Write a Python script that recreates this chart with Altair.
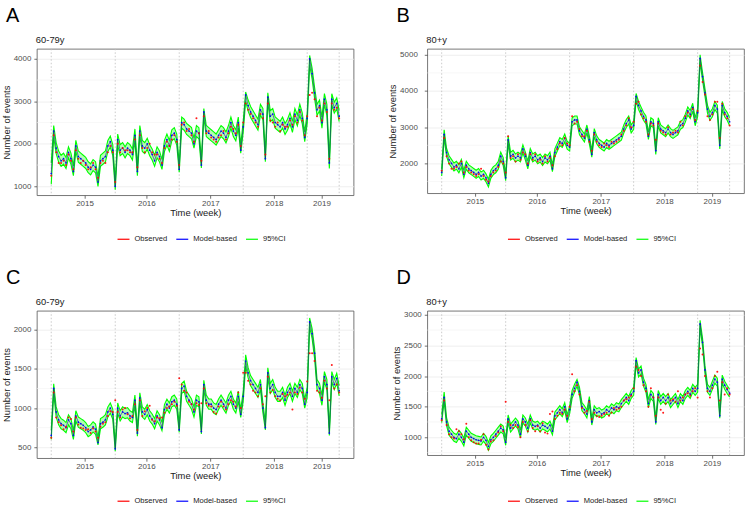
import altair as alt
import pandas as pd

FONT = "Liberation Sans"
WEEKS = list(range(0, 235, 2))
XTICKS = [27, 77.3, 129.3, 181, 219.6]
YEARS = ["2015", "2016", "2017", "2018", "2019"]
SEASON_LINES = [0, 52, 104, 156, 208, 234]
SERIES = ["Observed", "Model-based", "95%CI"]
COLORS = ["#ff0000", "#0000ff", "#00ff00"]

# ---------------- Panel A : 60-79y ----------------
A_model = [1300,2300,1900,1700,1600,1650,1550,1800,1650,1350,
           1950,1700,1650,1600,1550,1450,1400,1500,1450,1100,
           1600,1650,1700,1950,2050,1850,1000,2100,1850,1900,
           1800,1900,1850,1750,2200,1350,2300,1950,1900,2000,
           1850,1750,1600,1800,1700,1500,1950,2100,1950,2200,
           2250,2100,1400,2500,2450,2350,2300,2250,2000,2300,
           2250,1500,2750,2300,2250,2200,2150,2100,2200,2300,
           2250,2150,2300,2500,2300,2200,2500,1850,2400,3150,
           2900,2750,2650,2550,2450,2800,2700,1650,3100,2650,
           2700,2500,2450,2400,2500,2350,2450,2600,2400,2700,
           2550,2800,2600,2150,2600,4000,3650,3200,2800,2900,
           2500,3050,2800,1550,3050,2850,2950,2650]
A_lo = [1050,2150,1770,1570,1470,1520,1420,1670,1520,1250,
        1820,1570,1520,1470,1420,1320,1270,1370,1320,1000,
        1470,1520,1570,1820,1920,1720,920,1970,1720,1770,
        1670,1770,1720,1620,2070,1250,2170,1820,1770,1870,
        1720,1620,1470,1670,1570,1400,1820,1970,1820,2070,
        2120,1970,1330,2370,2320,2220,2170,2120,1900,2170,
        2120,1430,2620,2170,2120,2070,2020,1970,2070,2170,
        2120,2020,2170,2370,2170,2070,2370,1780,2270,3000,
        2770,2620,2520,2420,2320,2670,2570,1580,2970,2520,
        2570,2370,2320,2270,2370,2220,2320,2470,2270,2570,
        2420,2670,2470,2050,2470,3850,3520,3070,2670,2770,
        2370,2920,2670,1420,2920,2720,2820,2520]
A_hi = [1550,2430,2030,1830,1730,1780,1680,1930,1780,1480,
        2080,1830,1780,1730,1680,1580,1530,1630,1580,1230,
        1730,1780,1830,2080,2180,1980,1130,2230,1980,2030,
        1930,2030,1980,1880,2350,1480,2430,2080,2030,2130,
        1980,1880,1730,1930,1830,1630,2080,2230,2080,2330,
        2380,2230,1530,2630,2580,2480,2430,2380,2130,2430,
        2380,1630,2830,2430,2380,2330,2280,2230,2330,2430,
        2380,2280,2430,2630,2430,2330,2630,1980,2530,3220,
        3030,2880,2780,2680,2580,2930,2830,1780,3200,2780,
        2830,2630,2580,2530,2630,2480,2580,2730,2530,2830,
        2680,2930,2730,2280,2730,4080,3780,3330,2930,3030,
        2630,3180,2930,1680,3180,2980,3080,2780]
A_obs = [1250,2200,1800,1550,1550,1600,1500,1750,1600,1400,
         1850,1650,1550,1600,1500,1400,1450,1550,1400,1200,
         1550,1600,1550,1800,1950,1800,1100,2000,1800,1900,
         1850,1850,1800,1800,2100,1450,2200,1900,1800,1900,
         2000,1800,1750,1750,1650,1550,1900,2050,1950,2100,
         2200,2050,1500,2450,2500,2300,2350,2200,2050,2600,
         2250,1600,2650,2250,2300,2150,2100,2050,2150,2200,
         2300,2100,2250,2400,2350,2250,2450,1950,2500,2950,
         2800,2700,2600,2500,2400,2700,2600,1750,2950,2550,
         2500,2400,2500,2300,2450,2400,2400,2550,2450,2650,
         2500,2750,2550,2200,2650,3150,3200,3050,2650,2850,
         2550,2950,2750,1650,2950,2800,2850,2600]

# ---------------- Panel B : 80+y ----------------
B_model = [1750,2800,2300,2100,2000,1900,1950,1850,2000,1700,
           1950,1850,1800,1750,1700,1750,1650,1700,1600,1450,
           1700,1800,1850,1950,2200,2050,1600,2650,2200,2250,
           2150,2200,2150,2400,2200,1950,2300,2150,2200,2100,
           2150,2050,2150,2100,2200,1850,2300,2450,2600,2550,
           2700,2500,2450,3150,3200,3200,2900,2800,2700,2950,
           2650,2250,2850,2650,2550,2500,2450,2550,2500,2550,
           2600,2650,2700,2750,2950,3100,3200,2950,3050,3850,
           3600,3450,3300,3200,2750,3150,3100,2350,3150,2950,
           2900,2850,2950,2850,2800,2850,2900,3050,3100,3250,
           3450,3350,3550,3150,3400,4900,4400,3950,3500,3300,
           3400,3600,3500,2500,3600,3400,3300,3150]
B_lo = [1650,2690,2190,1990,1890,1790,1840,1740,1890,1600,
        1840,1740,1690,1640,1590,1640,1540,1590,1490,1350,
        1590,1690,1740,1840,2090,1940,1520,2540,2090,2140,
        2040,2090,2040,2290,2090,1850,2190,2040,2090,1990,
        2040,1940,2040,1990,2090,1770,2190,2340,2490,2440,
        2590,2390,2340,3040,3090,3090,2790,2690,2590,2840,
        2540,2170,2740,2540,2440,2390,2340,2440,2390,2440,
        2490,2540,2590,2640,2840,2990,3090,2840,2940,3740,
        3490,3340,3190,3090,2660,3040,2990,2250,3040,2840,
        2790,2740,2840,2740,2690,2740,2790,2940,2990,3140,
        3340,3240,3440,3040,3290,4790,4290,3840,3390,3190,
        3290,3490,3390,2400,3490,3290,3190,3040]
B_hi = [1850,2930,2410,2210,2110,2010,2060,1960,2110,1810,
        2060,1960,1910,1860,1810,1860,1760,1810,1710,1560,
        1810,1910,1960,2060,2310,2160,1710,2760,2310,2360,
        2260,2310,2260,2510,2310,2060,2410,2260,2310,2210,
        2260,2160,2260,2210,2310,1960,2410,2560,2710,2660,
        2810,2610,2560,3260,3310,3310,3010,2910,2810,3060,
        2760,2360,2960,2760,2660,2610,2560,2660,2610,2660,
        2710,2760,2810,2860,3060,3210,3310,3060,3160,3930,
        3710,3560,3410,3310,2860,3260,3210,2460,3260,3060,
        3010,2960,3060,2960,2910,2960,3010,3160,3210,3360,
        3560,3460,3660,3260,3510,5000,4510,4060,3610,3410,
        3510,3710,3610,2610,3710,3510,3410,3260]
B_obs = [1800,2700,2200,2000,1850,1850,1900,2000,2050,1750,
         1900,1800,1750,1700,1650,1700,1850,1650,1550,1500,
         1650,1750,1800,1900,2050,2000,1750,2750,2150,2200,
         2050,2250,2100,2300,2250,2000,2250,2100,2250,2050,
         2100,2000,2200,2050,2150,1950,2200,2400,2550,2500,
         2700,2550,2500,3300,3100,3150,2950,2750,2750,2900,
         2600,2350,2800,2600,2500,2450,2550,2500,2450,2600,
         2550,2600,2650,2800,2900,3050,3250,3000,3150,3650,
         3700,3350,3250,3150,2800,3100,3050,2650,3100,2900,
         2850,2800,3000,2800,2850,2900,2850,3150,3050,3300,
         3400,3300,3500,3200,3450,4700,4250,3900,3300,3200,
         3350,3700,3700,2700,3650,3350,3250,3050]

# ---------------- Panel C : 60-79y ----------------
C_model = [650,1250,950,850,800,780,750,850,800,650,
           900,820,800,780,750,700,720,760,730,560,
           800,820,850,950,1000,920,480,1000,900,950,
           930,940,900,880,1100,680,1130,950,920,980,
           900,860,800,900,850,750,980,1050,1000,1080,
           1100,1050,720,1250,1280,1150,1100,1050,950,1100,
           1080,700,1300,1100,1050,1050,1000,980,1050,1100,
           1050,1000,1100,1150,1050,1000,1150,920,1150,1600,
           1450,1350,1300,1250,1200,1300,1000,750,1450,1250,
           1300,1200,1150,1150,1200,1100,1200,1250,1150,1250,
           1200,1300,1250,1050,1200,2100,1950,1700,1300,1250,
           1100,1400,1300,680,1400,1300,1380,1220]
C_lo = [600,1185,885,785,735,715,685,785,735,600,
        835,755,735,715,685,635,655,695,665,530,
        735,755,785,885,935,855,450,935,835,885,
        865,875,835,815,1035,640,1065,885,855,915,
        835,795,735,835,785,710,915,985,935,1015,
        1035,985,690,1185,1215,1085,1035,985,885,1035,
        1015,670,1235,1035,985,985,935,915,985,1035,
        985,935,1035,1085,985,935,1085,880,1085,1535,
        1385,1285,1235,1185,1135,1235,940,720,1385,1185,
        1235,1135,1085,1085,1135,1035,1135,1185,1085,1185,
        1135,1235,1185,1000,1135,2035,1885,1635,1235,1185,
        1035,1335,1235,650,1335,1235,1315,1155]
C_hi = [715,1310,1015,915,865,845,815,915,865,715,
        965,885,865,845,815,765,785,825,795,625,
        865,885,915,1015,1065,985,545,1065,965,1015,
        995,1005,965,945,1165,745,1195,1015,985,1045,
        965,925,865,965,915,815,1045,1115,1065,1145,
        1165,1115,785,1315,1345,1215,1165,1115,1015,1165,
        1145,765,1355,1165,1115,1115,1065,1045,1115,1165,
        1115,1065,1165,1215,1115,1065,1215,985,1215,1680,
        1515,1415,1365,1315,1265,1365,1065,815,1515,1315,
        1365,1265,1215,1215,1265,1165,1265,1315,1215,1315,
        1265,1365,1315,1115,1265,2150,2015,1765,1365,1315,
        1165,1465,1365,745,1465,1365,1445,1285]
C_obs = [620,1200,880,820,780,730,760,880,860,700,
         880,790,750,740,720,730,680,740,700,620,
         760,800,820,900,960,950,1100,950,880,980,
         1000,920,870,900,1050,720,1100,900,960,1000,
         1030,850,830,880,870,880,940,1000,1020,1050,
         1080,1030,1380,1300,1220,1200,1080,1050,980,1060,
         1040,1060,1250,1060,1030,1020,950,930,1020,1080,
         1020,980,1050,1100,1080,1020,1200,1000,1450,1450,
         1350,1300,1220,1200,1150,1250,1050,1150,1400,1200,
         1230,1150,1120,1100,1180,1150,1170,1200,980,1200,
         1180,1260,1200,1120,1340,1700,1700,1600,1220,1200,
         1130,1350,1250,1100,1550,1250,1300,1200]

# ---------------- Panel D : 80+y ----------------
D_model = [1300,1650,1250,1100,1050,1000,980,1050,1000,920,
           1100,1050,1000,980,960,950,940,1000,950,850,
           960,1000,1050,1100,1150,1120,920,1300,1150,1200,
           1250,1200,1050,1300,1250,1150,1300,1200,1180,1200,
           1150,1200,1180,1150,1200,1100,1350,1400,1450,1400,
           1500,1300,1450,1700,1800,1900,1750,1500,1450,1380,
           1600,1250,1450,1400,1420,1380,1400,1450,1420,1480,
           1450,1500,1480,1550,1600,1650,1600,1700,1750,2250,
           2050,2100,1900,1800,1550,1700,1650,1250,1700,1600,
           1650,1600,1650,1550,1600,1650,1550,1650,1600,1700,
           1750,1700,1800,1750,1800,2850,2550,2100,1800,1750,
           1850,1950,1900,1350,1950,1850,1780,1720]
D_lo = [1240,1585,1185,1035,985,935,915,985,935,860,
        1035,985,935,915,895,885,875,935,885,790,
        895,935,985,1035,1085,1055,870,1235,1085,1135,
        1185,1135,990,1235,1185,1085,1235,1135,1115,1135,
        1085,1135,1115,1085,1135,1040,1285,1335,1385,1335,
        1435,1240,1385,1635,1735,1835,1685,1435,1385,1315,
        1535,1200,1385,1335,1355,1315,1335,1385,1355,1415,
        1385,1435,1415,1485,1535,1585,1535,1635,1685,2185,
        1985,2035,1835,1735,1485,1635,1585,1210,1635,1535,
        1585,1535,1585,1485,1535,1585,1485,1585,1535,1635,
        1685,1635,1735,1685,1735,2785,2485,2035,1735,1685,
        1785,1885,1835,1310,1885,1785,1715,1655]
D_hi = [1370,1740,1315,1165,1115,1065,1045,1115,1065,985,
        1165,1115,1065,1045,1025,1015,1005,1065,1015,915,
        1025,1065,1115,1165,1215,1185,985,1365,1215,1265,
        1315,1265,1115,1365,1315,1215,1365,1265,1245,1265,
        1215,1265,1245,1215,1265,1165,1415,1465,1515,1465,
        1565,1365,1515,1765,1865,1945,1815,1565,1515,1445,
        1665,1315,1515,1465,1485,1445,1465,1515,1485,1545,
        1515,1565,1545,1615,1665,1715,1665,1765,1815,2300,
        2115,2165,1965,1865,1615,1765,1715,1315,1765,1665,
        1715,1665,1715,1615,1665,1715,1615,1715,1665,1765,
        1815,1765,1865,1815,1865,2910,2615,2165,1865,1815,
        1915,2015,1965,1415,2015,1915,1845,1785]
D_obs = [1280,1600,1200,1050,1000,980,1130,1100,1050,970,
         1220,1000,950,920,900,900,960,1050,880,800,
         930,950,1020,1080,1180,1100,1580,1250,1200,1150,
         1200,1170,1000,1250,1200,1100,1280,1150,1100,1180,
         1100,1230,1080,1060,1380,1420,1300,1350,1400,1380,
         1450,1350,1500,2030,1750,1850,1700,1480,1400,1430,
         1580,1300,1400,1350,1330,1350,1380,1400,1350,1400,
         1480,1450,1470,1500,1600,1620,1650,1680,1800,2150,
         2100,2000,1850,1750,1500,1800,1650,1350,1650,1450,
         1400,1550,1700,1600,1620,1580,1750,1600,1650,1700,
         1720,1680,1750,1800,1650,2450,2350,2000,1750,1650,
         1800,2000,2070,1600,1900,1700,1800,1700]

for arr in [A_model, A_lo, A_hi, A_obs, B_model, B_lo, B_hi, B_obs,
            C_model, C_lo, C_hi, C_obs, D_model, D_lo, D_hi, D_obs]:
    assert len(arr) == len(WEEKS), len(arr)

PW = 318          # plot width of each panel
COL_GAP = 74
ROW_GAP = 116


def label_expr():
    mids = [(XTICKS[i] + XTICKS[i + 1]) / 2 for i in range(len(XTICKS) - 1)]
    expr = f"'{YEARS[-1]}'"
    for m, yr in reversed(list(zip(mids, YEARS[:-1]))):
        expr = f"datum.value < {m} ? '{yr}' : ({expr})"
    return expr


def panel(letter, sub, model, lo, hi, obs, ydom, majors, minors, height,
          ylabpad=3, anchor=None):
    xs = alt.Scale(domain=[-11.7, 245.7], nice=False, zero=False)
    ys = alt.Scale(domain=ydom, nice=False, zero=False)
    X = alt.X("week:Q", scale=xs,
              axis=alt.Axis(values=XTICKS, labelExpr=label_expr(),
                            title="Time (week)", grid=False, labelPadding=1,
                            titlePadding=1, labelFlush=False))
    Y = alt.Y("value:Q", scale=ys,
              axis=alt.Axis(values=majors, title="Number of events",
                            format="d", grid=True, labelPadding=ylabpad,
                            titlePadding=2, labelOverlap=False))
    C = alt.Color("series:N",
                  scale=alt.Scale(domain=SERIES, range=COLORS),
                  legend=alt.Legend(orient="none", direction="horizontal",
                                    legendX=80, legendY=184, title=None,
                                    symbolType="stroke", symbolSize=144,
                                    symbolStrokeWidth=1.2, labelFont=FONT,
                                    labelFontSize=7.6, labelColor="#1a1a1a",
                                    columnPadding=6, labelOffset=4,
                                    padding=0))

    ci = pd.DataFrame({"week": WEEKS * 2, "value": lo + hi,
                       "bound": ["lo"] * len(WEEKS) + ["hi"] * len(WEEKS),
                       "series": "95%CI"})
    band = pd.DataFrame({"week": WEEKS, "value": lo, "value2": hi})
    md = pd.DataFrame({"week": WEEKS, "value": model, "series": "Model-based"})
    ob = pd.DataFrame({"week": WEEKS, "value": obs, "series": "Observed"})

    minor = alt.Chart(pd.DataFrame({"value": minors})).mark_rule(
        color="#f2f2f2", strokeWidth=0.6).encode(y=Y)
    season = alt.Chart(pd.DataFrame({"week": SEASON_LINES})).mark_rule(
        color="#bdbdbd", strokeWidth=0.8, strokeDash=[1.5, 2]).encode(x=X)
    ci_line = alt.Chart(ci).mark_line(strokeWidth=1.1).encode(
        x=X, y=Y, color=C, detail="bound:N")
    ci_fill = alt.Chart(band).mark_area(color="#00ff00", opacity=0.3).encode(
        x=X, y=Y, y2="value2:Q")
    md_line = alt.Chart(md).mark_line(strokeWidth=0.6, color="#1a1a8c").encode(
        x=X, y=Y)
    md_pts = alt.Chart(md).mark_circle(size=3, opacity=1).encode(x=X, y=Y, color=C)
    ob_pts = alt.Chart(ob).mark_circle(size=4, opacity=0.9).encode(x=X, y=Y, color=C)

    lab = alt.Chart(pd.DataFrame({"t": [letter]})).mark_text(
        align="left", baseline="alphabetic", fontSize=20, font=FONT,
        color="#000000").encode(text="t:N", x=alt.value(-31), y=alt.value(-27))
    subt = alt.Chart(pd.DataFrame({"t": [sub]})).mark_text(
        align="left", baseline="alphabetic", fontSize=9.4, font=FONT,
        color="#1a1a1a").encode(text="t:N", x=alt.value(-1), y=alt.value(-6))

    layers = [minor, season, ci_line, ci_fill, md_line, md_pts, ob_pts, lab, subt]
    if anchor is not None:
        layers.append(alt.Chart(pd.DataFrame({"a": [0]})).mark_rule(
            opacity=0, strokeWidth=0).encode(
            x=alt.value(anchor[0]), x2=alt.value(anchor[0]),
            y=alt.value(anchor[1]), y2=alt.value(anchor[1])))
    return alt.layer(*layers).properties(width=PW, height=height)


pA = panel("A", "60-79y", A_model, A_lo, A_hi, A_obs, [790, 4235],
           [1000, 2000, 3000, 4000], [1500, 2500, 3500], 147, anchor=(-35, -47))
pB = panel("B", "80+y", B_model, B_lo, B_hi, B_obs, [1175, 5165],
           [2000, 3000, 4000, 5000], [1500, 2500, 3500, 4500], 145, ylabpad=7)
pC = panel("C", "60-79y", C_model, C_lo, C_hi, C_obs, [360, 2242],
           [500, 1000, 1500, 2000], [750, 1250, 1750], 148)
pD = panel("D", "80+y", D_model, D_lo, D_hi, D_obs, [708, 3065],
           [1000, 1500, 2000, 2500, 3000], [750, 1250, 1750, 2250, 2750], 145,
           anchor=(321, 196))

chart = alt.concat(pA, pB, pC, pD, columns=2,
                   spacing={"row": ROW_GAP, "column": COL_GAP},
                   bounds="flush").resolve_scale(
    color="independent", x="independent", y="independent"
).resolve_legend(color="independent").properties(
    padding=0, background="white"
).configure_view(
    stroke="#555555", strokeWidth=0.8
).configure_axis(
    labelFont=FONT, labelFontSize=8, labelColor="#4d4d4d",
    titleFont=FONT, titleFontSize=9.4, titleColor="#1a1a1a",
    titleFontWeight="normal", tickColor="#333333", tickSize=3,
    tickWidth=0.7, domain=False, gridColor="#ebebeb", gridWidth=0.8
)

chart.save("out.html", embed_options={"renderer": "svg", "actions": False})
